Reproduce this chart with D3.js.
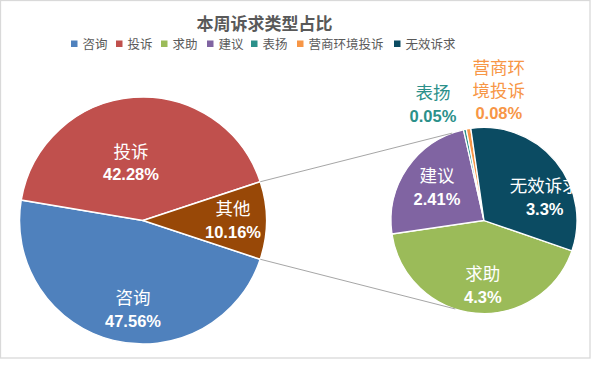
<!DOCTYPE html>
<html><head><meta charset="utf-8">
<script src="https://cdn.jsdelivr.net/npm/d3@7"></script>
<style>
html,body{margin:0;padding:0;background:#fff;}
svg{display:block;font-family:"Liberation Sans","Noto Sans CJK SC",sans-serif;}
</style></head>
<body><svg id="c" width="591" height="368"></svg>
<script>
// ---- data ----
const title = "本周诉求类型占比";
const mainCategories = ["咨询", "投诉", "其他"];
const mainValues = [47.56, 42.28, 10.16];
const subCategories = ["求助", "建议", "表扬", "营商环境投诉", "无效诉求"];
const subValues = [4.3, 2.41, 0.05, 0.08, 3.3];
const legendCategories = ["咨询", "投诉", "求助", "建议", "表扬", "营商环境投诉", "无效诉求"];
const mainLabels = ["47.56%", "42.28%", "10.16%"];
const subLabels = ["4.3%", "2.41%", "0.05%", "0.08%", "3.3%"];

// ---- styles / layout ----
const colors = {"咨询":"#4F81BD","投诉":"#C0504D","其他":"#984807","求助":"#9BBB59","建议":"#8064A2",
  "表扬":"#2B908A","营商环境投诉":"#F79646","无效诉求":"#0B4B62"};
const W = 591, H = 368;
const svg = d3.select("#c");
const deg = Math.PI/180;

// border
svg.append("rect").attr("x",0.5).attr("y",0.5).attr("width",W-1.5).attr("height",357.5)
  .attr("fill","#fff").attr("stroke","#D9D9D9").attr("stroke-width",1.3);

// title
svg.append("text").attr("x",264.5).attr("y",29.5).attr("text-anchor","middle")
  .attr("font-size",17).attr("font-weight","bold").attr("fill","#595959").text(title);

// legend
const legendX = d3.scaleOrdinal().domain(legendCategories).range([71,116,161,207,251,297,394]);
const lg = svg.append("g");
legendCategories.forEach(c=>{
  lg.append("rect").attr("x",legendX(c)).attr("y",40.5).attr("width",6.5).attr("height",6.5).attr("fill",colors[c]);
  lg.append("text").attr("x",legendX(c)+11.5).attr("y",49).attr("font-size",12.5).attr("fill","#595959").text(c);
});

// main pie
const mainC = [143, 220.5], mainR = 123.5;
const otherAngle = mainValues[2]/d3.sum(mainValues)*2*Math.PI;
const mainStart = Math.PI/2 + otherAngle/2;
const mainPie = d3.pie().sort(null).startAngle(mainStart).endAngle(mainStart+2*Math.PI)(mainValues);
const arcMain = d3.arc().innerRadius(0).outerRadius(mainR);
const gm = svg.append("g").attr("transform",`translate(${mainC})`);
gm.selectAll("path").data(mainPie).join("path").attr("d",arcMain)
  .attr("fill",(d,i)=>colors[mainCategories[i]]).attr("stroke","#fff").attr("stroke-width",1.5);

// secondary pie
const subC = [484, 220.5], subR = 93;
const subStart = 109*deg;
const subPie = d3.pie().sort(null).startAngle(subStart).endAngle(subStart+2*Math.PI)(subValues);
const arcSub = d3.arc().innerRadius(0).outerRadius(subR);
const gs = svg.append("g").attr("transform",`translate(${subC})`);
gs.selectAll("path").data(subPie).join("path").attr("d",arcSub)
  .attr("fill",(d,i)=>colors[subCategories[i]]).attr("stroke","#fff").attr("stroke-width",1.3);

// connector lines (from edges of the 其他 slice to the secondary pie)
const pOnMain = a => [mainC[0]+mainR*Math.sin(a), mainC[1]-mainR*Math.cos(a)];
const pOnSub = a => [subC[0]+subR*Math.sin(a), subC[1]-subR*Math.cos(a)];
const o = mainPie[2];
const conn = [[pOnMain(o.startAngle), pOnSub(-20*deg)], [pOnMain(o.endAngle), pOnSub(198*deg)]];
svg.selectAll("line.conn").data(conn).join("line").attr("class","conn")
  .attr("x1",d=>d[0][0]).attr("y1",d=>d[0][1]).attr("x2",d=>d[1][0]).attr("y2",d=>d[1][1])
  .attr("stroke","#A6A6A6").attr("stroke-width",1);

// labels: polar placement [radius, angle(deg from north)] relative to pie centre
const mainLabelPos = [[89.6,186.4],[58.7,-11.8],[90,90]];
const subLabelPos = [[65,181],[57.4,305],[127,-23.7],[131,6.5],[65,69]];
svg.append("clipPath").attr("id","clip").append("rect").attr("x",0).attr("y",0).attr("width",577).attr("height",H);

function label(g, cx, cy, lines, pct, color, fs){
  const t = g.append("text").attr("text-anchor","middle").attr("fill",color).attr("clip-path","url(#clip)");
  const n = lines.length;
  const lh = 23;
  const centre = k => cy + (k - n/2)*lh;
  lines.forEach((l,i)=>{
    t.append("tspan").attr("x",cx).attr("y",centre(i) + 6.3).attr("font-size",fs).text(l);
  });
  t.append("tspan").attr("x",cx).attr("y",centre(n) + 5.9).attr("font-size",16.5).attr("font-weight","bold").text(pct);
}
const gl = svg.append("g");
mainCategories.forEach((c,i)=>{
  const [r,a] = mainLabelPos[i];
  const x = mainC[0]+r*Math.sin(a*deg), y = mainC[1]-r*Math.cos(a*deg);
  label(gl, x, y, [c], mainLabels[i], "#fff", 17.5);
});
subCategories.forEach((c,i)=>{
  const [r,a] = subLabelPos[i];
  const x = subC[0]+r*Math.sin(a*deg), y = subC[1]-r*Math.cos(a*deg);
  const outside = r > subR;
  const lines = c.length > 4 ? [c.slice(0,3), c.slice(3)] : [c];
  label(gl, x, y, lines, subLabels[i], outside ? colors[c] : "#fff", 17.5);
});
</script></body></html>
